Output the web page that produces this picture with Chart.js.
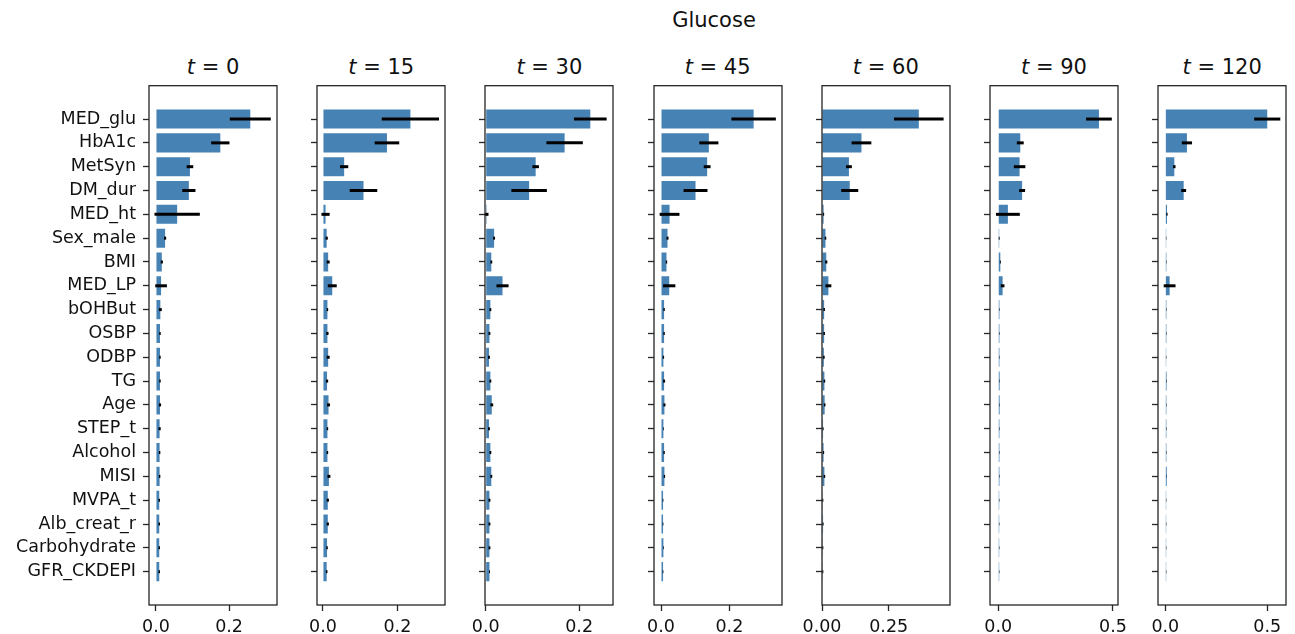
<!DOCTYPE html>
<html>
<head>
<meta charset="utf-8">
<script src="https://cdn.jsdelivr.net/npm/chart.js@4"></script>
<style>
  body { margin: 0; background: #fff; font-family: 'DejaVu Sans', sans-serif; }
  #page { position: relative; width: 1295px; height: 634px; overflow: hidden; }
  .panel { position: absolute; top: 84px; height: 550px; }
  .ttl { position: absolute; width: 160px; text-align: center; font-size: 21px; color: #111; line-height: 24px; }
  #sup { position: absolute; left: 614px; top: 8px; width: 200px; text-align: center; font-size: 21px; color: #111; line-height: 24px; }
</style>
</head>
<body>
<div id="page">
  <div id="sup">Glucose</div>
</div>
<script>
  const categories = ['MED_glu', 'HbA1c', 'MetSyn', 'DM_dur', 'MED_ht', 'Sex_male', 'BMI', 'MED_LP', 'bOHBut', 'OSBP',
    'ODBP', 'TG', 'Age', 'STEP_t', 'Alcohol', 'MISI', 'MVPA_t', 'Alb_creat_r', 'Carbohydrate', 'GFR_CKDEPI'];
  const times = [0, 15, 30, 45, 60, 90, 120];

  // mean importance and error per time point
  const mean0 = [0.258, 0.176, 0.093, 0.090, 0.058, 0.025, 0.016, 0.014, 0.012, 0.011, 0.011, 0.011, 0.011, 0.010, 0.010, 0.010, 0.009, 0.009, 0.009, 0.009];
  const err0 = [0.056, 0.025, 0.009, 0.018, 0.062, 0.003, 0.003, 0.016, 0.004, 0.002, 0.002, 0.002, 0.003, 0.003, 0.002, 0.002, 0.002, 0.002, 0.002, 0.002];
  const mean15 = [0.235, 0.172, 0.057, 0.109, 0.007, 0.010, 0.014, 0.025, 0.012, 0.012, 0.014, 0.011, 0.015, 0.012, 0.012, 0.016, 0.013, 0.013, 0.011, 0.010];
  const err15 = [0.077, 0.033, 0.011, 0.037, 0.011, 0.003, 0.004, 0.012, 0.002, 0.003, 0.004, 0.003, 0.004, 0.002, 0.002, 0.004, 0.003, 0.003, 0.002, 0.002];
  const mean30 = [0.224, 0.169, 0.107, 0.093, 0.002, 0.018, 0.012, 0.036, 0.010, 0.008, 0.007, 0.010, 0.013, 0.007, 0.010, 0.012, 0.008, 0.008, 0.008, 0.008];
  const err30 = [0.035, 0.039, 0.007, 0.038, 0.004, 0.002, 0.002, 0.013, 0.002, 0.002, 0.002, 0.002, 0.003, 0.002, 0.002, 0.002, 0.002, 0.002, 0.002, 0.001];
  const mean45 = [0.271, 0.140, 0.135, 0.101, 0.025, 0.019, 0.016, 0.024, 0.009, 0.009, 0.007, 0.009, 0.010, 0.007, 0.009, 0.010, 0.006, 0.006, 0.007, 0.006];
  const err45 = [0.065, 0.028, 0.010, 0.035, 0.029, 0.003, 0.002, 0.018, 0.002, 0.002, 0.002, 0.003, 0.003, 0.001, 0.002, 0.002, 0.001, 0.001, 0.001, 0.001];
  const mean60 = [0.363, 0.148, 0.101, 0.104, 0.006, 0.013, 0.016, 0.024, 0.008, 0.008, 0.007, 0.009, 0.010, 0.004, 0.006, 0.009, 0.003, 0.004, 0.003, 0.003];
  const err60 = [0.093, 0.037, 0.011, 0.032, 0.002, 0.003, 0.004, 0.011, 0.003, 0.003, 0.003, 0.003, 0.003, 0.002, 0.002, 0.003, 0.002, 0.002, 0.002, 0.002];
  const mean90 = [0.439, 0.096, 0.093, 0.104, 0.042, 0.004, 0.009, 0.019, 0.005, 0.005, 0.005, 0.006, 0.006, 0.005, 0.005, 0.005, 0.004, 0.004, 0.004, 0.004];
  const err90 = [0.056, 0.015, 0.025, 0.013, 0.052, 0.002, 0.002, 0.008, 0.001, 0.001, 0.001, 0.001, 0.001, 0.001, 0.001, 0.001, 0.001, 0.001, 0.001, 0.001];
  const mean120 = [0.500, 0.106, 0.044, 0.090, 0.008, 0.004, 0.005, 0.021, 0.005, 0.005, 0.004, 0.006, 0.005, 0.005, 0.005, 0.007, 0.004, 0.004, 0.004, 0.004];
  const err120 = [0.064, 0.025, 0.006, 0.012, 0.003, 0.001, 0.001, 0.029, 0.001, 0.001, 0.001, 0.001, 0.001, 0.001, 0.001, 0.001, 0.001, 0.001, 0.001, 0.001];

  const means = [mean0, mean15, mean30, mean45, mean60, mean90, mean120];
  const errs = [err0, err15, err30, err45, err60, err90, err120];

  // x axis limits and ticks per panel
  const xMin = [-0.019, -0.016, -0.0015, -0.0205, 0, -0.036, -0.036];
  const xMax = [0.331, 0.328, 0.2726, 0.354, 0.48, 0.522, 0.592];
  const xTicks = [[0, 0.2], [0, 0.2], [0, 0.2], [0, 0.2], [0, 0.25], [0, 0.5], [0, 0.5]];
  const xTickLabels = [['0.0', '0.2'], ['0.0', '0.2'], ['0.0', '0.2'], ['0.0', '0.2'], ['0.00', '0.25'], ['0.0', '0.5'], ['0.0', '0.5']];

  Chart.defaults.font.family = "'DejaVu Sans', sans-serif";
  Chart.defaults.font.size = 17.5;
  Chart.defaults.color = '#111';

  const BLUE = '#4682B4';
  const INK = '#262626';
  const PLOT_W = 128;
  const STEP = 168.2;

  const errorBars = {
    id: 'errorBars',
    afterDatasetsDraw(chart, args, opts) {
      const ctx = chart.ctx;
      const xs = chart.scales.x, ys = chart.scales.y;
      ctx.save();
      ctx.strokeStyle = '#000';
      ctx.lineWidth = 3;
      opts.mean.forEach((m, i) => {
        const e = opts.err[i];
        const y = ys.getPixelForValue(i);
        ctx.beginPath();
        ctx.moveTo(xs.getPixelForValue(m - e), y);
        ctx.lineTo(xs.getPixelForValue(m + e), y);
        ctx.stroke();
      });
      ctx.restore();
    }
  };

  const frame = {
    id: 'frame',
    afterDraw(chart) {
      const a = chart.chartArea, ctx = chart.ctx;
      ctx.save();
      ctx.strokeStyle = INK;
      ctx.lineWidth = 1.3;
      ctx.strokeRect(a.left, a.top, a.right - a.left, a.bottom - a.top);
      ctx.restore();
    }
  };

  const page = document.getElementById('page');

  times.forEach((t, p) => {
    const left = 149 + p * STEP;
    const yw = p === 0 ? 149 : 20;

    const title = document.createElement('div');
    title.className = 'ttl';
    title.style.left = (left + PLOT_W / 2 - 80) + 'px';
    title.style.top = '55px';
    title.innerHTML = '<i>t</i> = ' + t;
    page.appendChild(title);

    const wrap = document.createElement('div');
    wrap.className = 'panel';
    wrap.style.left = (left - yw) + 'px';
    wrap.style.width = (yw + PLOT_W + 20) + 'px';
    const cv = document.createElement('canvas');
    wrap.appendChild(cv);
    page.appendChild(wrap);

    new Chart(cv, {
      type: 'bar',
      data: {
        datasets: [{
          data: means[p].map((v, i) => ({ x: v, y: i })),
          backgroundColor: BLUE,
          borderWidth: 0,
          barPercentage: 0.8,
          categoryPercentage: 1
        }]
      },
      options: {
        indexAxis: 'y',
        responsive: true,
        maintainAspectRatio: false,
        animation: false,
        layout: { padding: { top: 1.7, right: 20, bottom: 0, left: 0 } },
        plugins: {
          legend: { display: false },
          tooltip: { enabled: false },
          errorBars: { mean: means[p], err: errs[p] }
        },
        scales: {
          x: {
            type: 'linear',
            min: xMin[p],
            max: xMax[p],
            afterBuildTicks: s => { s.ticks = xTicks[p].map(v => ({ value: v })); },
            afterFit: s => { s.height = 29; s.paddingLeft = 0; s.paddingRight = 0; },
            ticks: {
              autoSkip: false,
              maxRotation: 0,
              padding: 6,
              callback: (v, i) => xTickLabels[p][i]
            },
            grid: { drawOnChartArea: false, drawTicks: true, tickLength: 6, tickColor: INK, tickWidth: 1.3 },
            border: { display: false }
          },
          y: {
            type: 'linear',
            reverse: true,
            offset: false,
            min: -1.4,
            max: 20.4,
            afterBuildTicks: s => { s.ticks = categories.map((_, i) => ({ value: i })); },
            afterFit: s => { s.width = yw; s.paddingTop = 0; s.paddingBottom = 0; },
            ticks: {
              display: p === 0,
              autoSkip: false,
              padding: 7,
              callback: v => categories[v]
            },
            grid: { offset: false, drawOnChartArea: false, drawTicks: true, tickLength: 6, tickColor: INK, tickWidth: 1.3 },
            border: { display: false }
          }
        }
      },
      plugins: [errorBars, frame]
    });
  });
</script>
</body>
</html>
